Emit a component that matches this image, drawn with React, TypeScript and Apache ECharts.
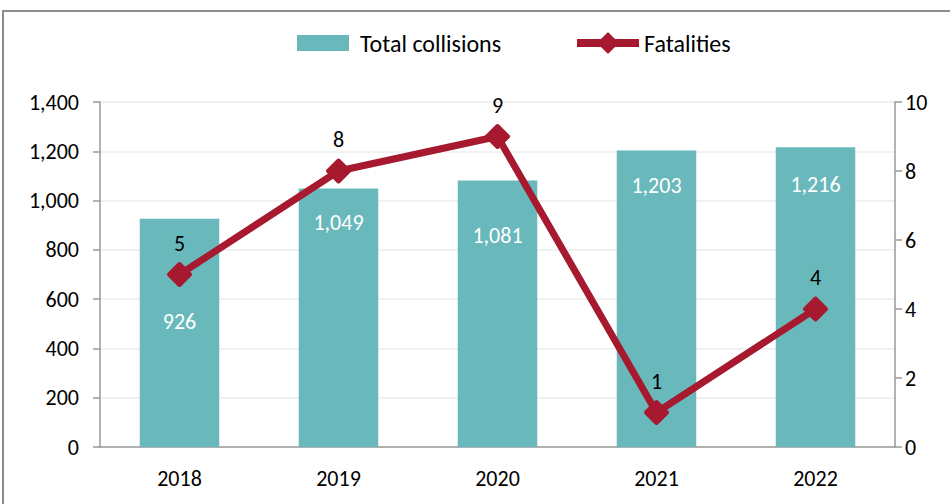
import React, { useEffect, useRef } from "react";
import * as echarts from "echarts";

const years = ["2018", "2019", "2020", "2021", "2022"];
const collisions = [926, 1049, 1081, 1203, 1216];
const fatalities = [5, 8, 9, 1, 4];
const barLabelDistance = [92, 23, 44, 24, 26];

const FONT = "Carlito, Lato, sans-serif";
const FS = 22;
const RED = "#A6192E";
const TEAL = "#69B8BB";
const fmt = (v: number) => v.toLocaleString("en-US");

export default function App() {
  const ref = useRef<HTMLDivElement>(null);
  useEffect(() => {
    document.body.style.margin = "0";
    const chart = echarts.init(ref.current!, undefined, { renderer: "svg" });
    chart.setOption({
      animation: false,
      textStyle: { fontFamily: FONT },
      graphic: [
        {
          type: "rect",
          shape: { x: 3, y: 11, width: 1000, height: 600 },
          style: { fill: "none", stroke: "#8c8c8c", lineWidth: 2 },
          silent: true,
          z: -10,
        },
      ],
      legend: [
        {
          left: 292,
          top: 26,
          textStyle: { fontSize: 24, color: "#000", fontFamily: FONT, padding: [0, 0, 0, 6] },
          data: [{ name: "Total collisions", icon: "rect", itemStyle: { color: TEAL } }],
          itemWidth: 52,
          itemHeight: 16,
        },
        {
          left: 568,
          top: 26,
          textStyle: { fontSize: 24, color: "#000", fontFamily: FONT },
          data: [{ name: "Fatalities", lineStyle: { width: 8, color: RED } }],
          itemWidth: 62,
          itemHeight: 24,
        },
      ],
      grid: { left: 100, right: 55, top: 102, bottom: 57 },
      xAxis: {
        type: "category",
        data: years,
        axisLine: { lineStyle: { color: "#9a9a9a", width: 1.5 } },
        axisTick: { length: 8, lineStyle: { color: "#9a9a9a", width: 1.5 } },
        axisLabel: { fontSize: FS, color: "#000", margin: 20, fontFamily: FONT },
      },
      yAxis: [
        {
          type: "value",
          min: 0,
          max: 1400,
          interval: 200,
          axisLine: { show: true, lineStyle: { color: "#9a9a9a", width: 1.5 } },
          axisTick: { show: true, length: 7, lineStyle: { color: "#9a9a9a", width: 1.5 } },
          axisLabel: { fontSize: FS, color: "#000", margin: 21, formatter: (v: number) => fmt(v), fontFamily: FONT },
          splitLine: { lineStyle: { color: "#ececec", width: 1.5 } },
        },
        {
          type: "value",
          min: 0,
          max: 10,
          interval: 2,
          position: "right",
          axisLine: { show: true, lineStyle: { color: "#9a9a9a", width: 1.5 } },
          axisTick: { show: true, length: 7, lineStyle: { color: "#9a9a9a", width: 1.5 } },
          axisLabel: { fontSize: FS, color: "#000", margin: 10, fontFamily: FONT },
          splitLine: { show: false },
        },
      ],
      series: [
        {
          name: "Total collisions",
          type: "bar",
          barWidth: "50%",
          itemStyle: { color: TEAL },
          data: collisions.map((v, i) => ({
            value: v,
            label: {
              show: true,
              position: "insideTop",
              distance: barLabelDistance[i],
              color: "#fff",
              fontSize: FS,
              fontFamily: FONT,
              formatter: (p: any) => fmt(p.value),
            },
          })),
        },
        {
          name: "Fatalities",
          type: "line",
          yAxisIndex: 1,
          data: fatalities,
          symbol: "diamond",
          symbolSize: 21,
          lineStyle: { color: RED, width: 7 },
          itemStyle: { color: RED, borderColor: RED, borderWidth: 4, borderJoin: "round" },
          label: {
            show: true,
            position: "top",
            distance: 8,
            color: "#000",
            fontSize: FS,
            fontFamily: FONT,
          },
          z: 5,
        },
      ],
    });
    return () => chart.dispose();
  }, []);
  return <div ref={ref} style={{ width: 950, height: 504 }} />;
}
